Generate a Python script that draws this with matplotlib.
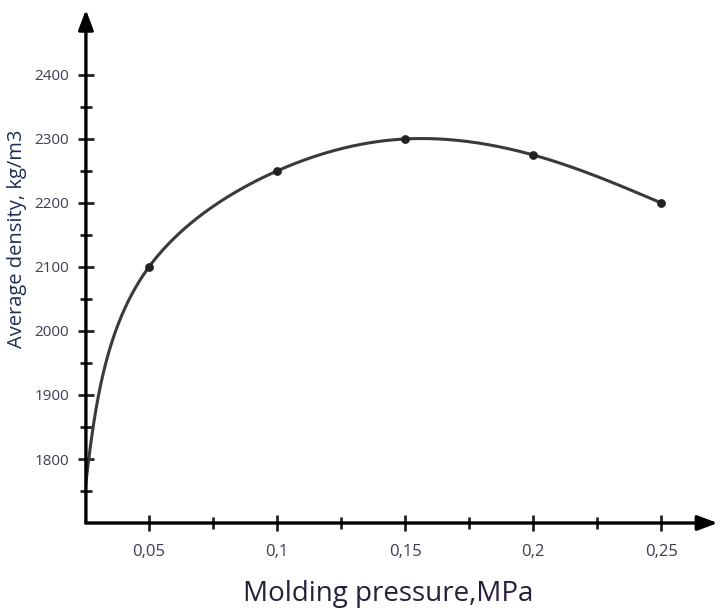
import numpy as np
import matplotlib.pyplot as plt

# -----------------------------
# Data
# -----------------------------
pressure = [0.025, 0.05, 0.10, 0.15, 0.20, 0.25]
density = [1750, 2100, 2250, 2300, 2275, 2200]

x_ticks = [0.05, 0.10, 0.15, 0.20, 0.25]
x_labels = ["0,05", "0,1", "0,15", "0,2", "0,25"]
y_ticks = [1800, 1900, 2000, 2100, 2200, 2300, 2400]


def smooth(xs, ys, sx, sy, n=400):
    # parametric natural cubic spline (chord length), drawing only
    px = np.asarray(xs) * sx
    py = np.asarray(ys) * sy
    d = np.hypot(np.diff(px), np.diff(py))
    t = np.concatenate([[0], np.cumsum(d)])
    m = len(t)

    def spline(v):
        h = np.diff(t)
        A = np.zeros((m, m))
        b = np.zeros(m)
        A[0, 0] = A[-1, -1] = 1
        for i in range(1, m - 1):
            A[i, i - 1] = h[i - 1]
            A[i, i] = 2 * (h[i - 1] + h[i])
            A[i, i + 1] = h[i]
            b[i] = 6 * ((v[i + 1] - v[i]) / h[i] - (v[i] - v[i - 1]) / h[i - 1])
        M = np.linalg.solve(A, b)
        tt = np.linspace(t[0], t[-1], n)
        out = np.empty(n)
        for k, q in enumerate(tt):
            i = min(np.searchsorted(t, q, side="right") - 1, m - 2)
            hi = h[i]
            a = (t[i + 1] - q) / hi
            c = (q - t[i]) / hi
            out[k] = (a * v[i] + c * v[i + 1]
                      + ((a ** 3 - a) * M[i] + (c ** 3 - c) * M[i + 1]) * hi ** 2 / 6)
        return out

    return spline(px) / sx, spline(py) / sy


# -----------------------------
# Figure
# -----------------------------
plt.rcParams["font.family"] = ["Open Sans", "DejaVu Sans"]
fig = plt.figure(figsize=(7.22, 6.11), dpi=100)
ax = fig.add_axes([0.119, 0.144, 0.875, 0.836])

xmin, xmax = 0.0254, 0.272
ymin, ymax = 1700, 2498
ax.set_xlim(xmin, xmax)
ax.set_ylim(ymin, ymax)

sx = 128 / 0.05
sy = 64 / 100
cx, cy = smooth(pressure, density, sx, sy)
ax.plot(cx, cy, color="#3a3a3a", lw=2.2, solid_capstyle="round", zorder=3)
ax.scatter(pressure[1:], density[1:], s=28, color="#222222", zorder=4)

for s in ax.spines.values():
    s.set_visible(False)

# axes with arrows
ax.annotate("", xy=(1.0, 0), xytext=(0, 0), xycoords="axes fraction",
            arrowprops=dict(arrowstyle="-|>,head_length=1.2,head_width=0.45",
                            color="black", lw=2.4, shrinkA=0, shrinkB=0), zorder=5)
ax.annotate("", xy=(0, 1.005), xytext=(0, 0), xycoords="axes fraction",
            arrowprops=dict(arrowstyle="-|>,head_length=1.2,head_width=0.45",
                            color="black", lw=2.4, shrinkA=0, shrinkB=0), zorder=5)

ax.set_xticks(x_ticks)
ax.set_xticklabels(x_labels)
ax.set_xticks([0.075, 0.125, 0.175, 0.225], minor=True)
ax.set_yticks(y_ticks)
ax.set_yticks([1750, 1850, 1950, 2050, 2150, 2250, 2350], minor=True)

lab_col = "#3b3b55"
ax.tick_params(axis="both", which="both", direction="inout", color="#222222",
               width=2, labelcolor=lab_col)
ax.tick_params(axis="both", which="major", length=12)
ax.tick_params(axis="both", which="minor", length=9)
ax.tick_params(axis="x", which="major", pad=9, labelsize=12)
ax.tick_params(axis="y", which="major", pad=6, labelsize=11)

ax.set_xlabel("Molding pressure,MPa", fontsize=20, color="#2a1f3a")
ax.xaxis.set_label_coords(0.479, -0.112)
ax.set_ylabel("Average density, kg/m3", fontsize=14.5, color="#1f2f55")
ax.yaxis.set_label_coords(-0.093, 0.556)

plt.savefig("out.png", dpi=100)
